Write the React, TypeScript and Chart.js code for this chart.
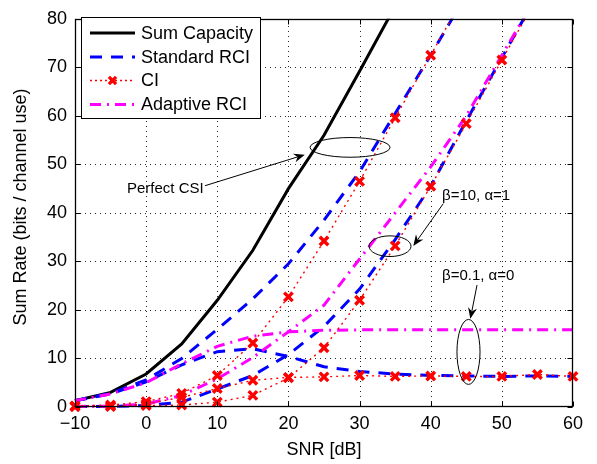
import React, { useEffect, useRef } from 'react';
import { Chart, registerables } from 'chart.js';

Chart.register(...registerables);

// ---------- data ----------
const snr = [-10, -5, 0, 5, 10, 15, 20, 25, 30, 35, 40, 45, 50, 55, 60];

const sumCapacity = [1.3, 3.0, 6.8, 13.0, 22.0, 32.3, 45.0, 56.0, 69.2, 82.6, null, null, null, null, null];

const rciHigh = [1.3, 2.8, 5.6, 10.0, 16.0, 22.3, 29.5, 38.5, 48.5, 60.5, 72.5, 85.0, null, null, null];
const rciHump = [1.3, 2.7, 5.2, 8.7, 11.4, 12.0, 10.4, 8.3, 7.3, 6.8, 6.5, 6.4, 6.3, 6.4, 6.3];
const rciLow = [0.1, 0.1, 0.3, 1.0, 3.7, 6.5, 10.8, 16.6, 24.3, 34.5, 45.5, 59.0, 72.0, 85.0, null];

const ciHigh = [0.2, 0.4, 1.1, 2.8, 6.5, 13.2, 22.7, 34.2, 46.5, 59.6, 72.5, 85.5, null, null, null];
const ciFlat = [0.1, 0.2, 0.6, 2.0, 3.8, 5.5, 6.1, 6.2, 6.5, 6.3, 6.4, 6.3, 6.3, 6.7, 6.3];
const ciLow = [0.1, 0.1, 0.3, 0.4, 1.0, 2.4, 6.0, 12.2, 22.0, 33.2, 45.5, 58.4, 71.5, 84.5, null];

const arcFlat = [1.3, 2.7, 5.0, 8.9, 12.5, 14.6, 15.5, 15.8, 15.9, 15.9, 15.9, 15.9, 15.9, 15.9, 15.9];
const arcLow = [0.1, 0.2, 0.6, 2.4, 5.8, 10.2, 15.5, 21.0, 30.5, 40.0, 49.5, 60.0, 72.5, 85.0, null];

const xTicks = [-10, 0, 10, 20, 30, 40, 50, 60];
const yTicks = [0, 10, 20, 30, 40, 50, 60, 70, 80];

const legendLabels = ['Sum Capacity', 'Standard RCI', 'CI', 'Adaptive RCI'];
const xTitle = 'SNR [dB]';
const yTitle = 'Sum Rate (bits / channel use)';

// annotations (data units)
const noteTexts = [
  { text: 'Perfect CSI', x: -2.69, y: 45.0 },
  { text: 'β=10, α=1', x: 41.59, y: 43.5 },
  { text: 'β=0.1, α=0', x: 41.59, y: 26.96 },
];
const noteArrows = [
  { x1: 8.27, y1: 45.6, x2: 22.3, y2: 52.0 },
  { x1: 41.76, y1: 41.9, x2: 37.55, y2: 33.2 },
  { x1: 46.51, y1: 25.13, x2: 45.57, y2: 18.18 },
];
const noteEllipses = [
  { cx: 28.66, cy: 53.5, rx: 5.62, ry: 2.03 },
  { cx: 34.28, cy: 33.14, rx: 2.95, ry: 2.13 },
  { cx: 45.31, cy: 11.35, rx: 1.62, ry: 6.69 },
];

// ---------- styles ----------
const FONT = '"Liberation Sans", Arial, Helvetica, sans-serif';
const BLACK = '#000000';
const BLUE = '#0000ff';
const RED = '#ff0000';
const MAGENTA = '#ff00ff';
const BLUE_DASH = [12, 9];
const MAG_DASH = [11, 6, 2, 6];
const RED_DASH = [2, 4];

const pts = (arr: (number | null)[]) => snr.map((x, i) => ({ x, y: arr[i] }));

function arrow(ctx: CanvasRenderingContext2D, x1: number, y1: number, x2: number, y2: number) {
  const ang = Math.atan2(y2 - y1, x2 - x1);
  const c = Math.cos(ang), s = Math.sin(ang);
  const len = 11, half = 4.5, notch = 7.5;
  ctx.beginPath();
  ctx.moveTo(x1, y1);
  ctx.lineTo(x2 - c * notch, y2 - s * notch);
  ctx.stroke();
  ctx.beginPath();
  ctx.moveTo(x2, y2);
  ctx.lineTo(x2 - c * len - s * half, y2 - s * len + c * half);
  ctx.lineTo(x2 - c * notch, y2 - s * notch);
  ctx.lineTo(x2 - c * len + s * half, y2 - s * len - c * half);
  ctx.closePath();
  ctx.fill();
}

const decor = {
  id: 'decor',
  beforeDatasetsDraw(chart: any) {
    const { ctx, chartArea: a, scales } = chart;
    const xs = scales.x, ys = scales.y;
    ctx.save();
    ctx.strokeStyle = 'rgba(0,0,0,0.85)';
    ctx.lineWidth = 1;
    ctx.setLineDash([1, 4]);
    xTicks.slice(1, -1).forEach((v) => {
      const p = Math.round(xs.getPixelForValue(v)) + 0.5;
      ctx.beginPath();
      ctx.moveTo(p, a.bottom);
      ctx.lineTo(p, a.top);
      ctx.stroke();
    });
    yTicks.slice(1, -1).forEach((v) => {
      const p = Math.round(ys.getPixelForValue(v)) + 0.5;
      ctx.beginPath();
      ctx.moveTo(a.left, p);
      ctx.lineTo(a.right, p);
      ctx.stroke();
    });
    ctx.restore();
  },
  afterDatasetsDraw(chart: any) {
    const { ctx, chartArea: a, scales } = chart;
    const xs = scales.x, ys = scales.y;
    ctx.save();
    // box
    ctx.setLineDash([]);
    ctx.strokeStyle = BLACK;
    ctx.lineWidth = 1.3;
    const L = Math.round(a.left) + 0.5, R = Math.round(a.right) - 0.5;
    const T = Math.round(a.top) + 0.5, B = Math.round(a.bottom) - 0.5;
    ctx.strokeRect(L, T, R - L, B - T);
    // tick marks inside
    const tl = 5;
    ctx.lineWidth = 1;
    ctx.beginPath();
    xTicks.forEach((v) => {
      const p = Math.round(xs.getPixelForValue(v)) + 0.5;
      ctx.moveTo(p, B); ctx.lineTo(p, B - tl);
      ctx.moveTo(p, T); ctx.lineTo(p, T + tl);
    });
    yTicks.forEach((v) => {
      const p = Math.round(ys.getPixelForValue(v)) + 0.5;
      ctx.moveTo(L, p); ctx.lineTo(L + tl, p);
      ctx.moveTo(R, p); ctx.lineTo(R - tl, p);
    });
    ctx.stroke();

    // annotations
    ctx.fillStyle = BLACK;
    ctx.strokeStyle = BLACK;
    ctx.lineWidth = 1;
    noteEllipses.forEach((e) => {
      const cx = xs.getPixelForValue(e.cx), cy = ys.getPixelForValue(e.cy);
      const rx = Math.abs(xs.getPixelForValue(e.cx + e.rx) - cx);
      const ry = Math.abs(ys.getPixelForValue(e.cy + e.ry) - cy);
      ctx.beginPath();
      ctx.ellipse(cx, cy, rx, ry, 0, 0, Math.PI * 2);
      ctx.stroke();
    });
    noteArrows.forEach((n) => {
      arrow(ctx, xs.getPixelForValue(n.x1), ys.getPixelForValue(n.y1), xs.getPixelForValue(n.x2), ys.getPixelForValue(n.y2));
    });
    ctx.font = `15px ${FONT}`;
    ctx.textAlign = 'left';
    ctx.textBaseline = 'middle';
    noteTexts.forEach((n) => {
      ctx.fillText(n.text, xs.getPixelForValue(n.x), ys.getPixelForValue(n.y));
    });

    // legend
    const bx = 81.5, by = 17.5, bw = 179, bh = 101;
    ctx.fillStyle = '#ffffff';
    ctx.fillRect(bx, by, bw, bh);
    ctx.strokeStyle = BLACK;
    ctx.lineWidth = 1;
    ctx.strokeRect(bx, by, bw, bh);
    const rows = [33, 57, 80.5, 104.5];
    const sx1 = 90, sx2 = 135;
    const styles = [
      { c: BLACK, w: 3, d: [] as number[] },
      { c: BLUE, w: 3, d: BLUE_DASH },
      { c: RED, w: 1.5, d: [2, 3] },
      { c: MAGENTA, w: 3, d: MAG_DASH },
    ];
    rows.forEach((yy, i) => {
      const st = styles[i];
      ctx.strokeStyle = st.c;
      ctx.lineWidth = st.w;
      ctx.setLineDash(st.d);
      ctx.beginPath();
      ctx.moveTo(sx1, yy);
      ctx.lineTo(sx2, yy);
      ctx.stroke();
      ctx.setLineDash([]);
      if (i === 2) {
        const mx = (sx1 + sx2) / 2, r = 3.6;
        ctx.lineWidth = 3.2;
        ctx.beginPath();
        ctx.moveTo(mx - r, yy - r); ctx.lineTo(mx + r, yy + r);
        ctx.moveTo(mx + r, yy - r); ctx.lineTo(mx - r, yy + r);
        ctx.stroke();
      }
      ctx.fillStyle = BLACK;
      ctx.font = `18px ${FONT}`;
      ctx.textAlign = 'left';
      ctx.textBaseline = 'middle';
      ctx.fillText(legendLabels[i], 141, yy + 1);
    });

    // axis titles
    ctx.fillStyle = BLACK;
    ctx.font = `18px ${FONT}`;
    ctx.textAlign = 'center';
    ctx.textBaseline = 'middle';
    ctx.fillText(xTitle, (a.left + a.right) / 2, 450);
    ctx.save();
    ctx.translate(21, 207);
    ctx.rotate(-Math.PI / 2);
    ctx.fillText(yTitle, 0, 0);
    ctx.restore();

    ctx.restore();
  },
};

export default function App() {
  const ref = useRef<HTMLCanvasElement | null>(null);
  useEffect(() => {
    if (!ref.current) return;
    const clip = { left: 12, top: 0, right: 12, bottom: 12 };
    const blue = (d: (number | null)[]) => ({
      data: pts(d), borderColor: BLUE, borderWidth: 3, borderDash: BLUE_DASH,
      pointRadius: 0, order: 3, clip,
    });
    const mag = (d: (number | null)[]) => ({
      data: pts(d), borderColor: MAGENTA, borderWidth: 3, borderDash: MAG_DASH,
      pointRadius: 0, order: 2, clip,
    });
    const red = (d: (number | null)[]) => ({
      data: pts(d), borderColor: RED, borderWidth: 1.4, borderDash: RED_DASH,
      pointStyle: 'crossRot', pointRadius: 6, pointBorderWidth: 3.4,
      pointBorderColor: RED, pointBackgroundColor: RED, order: 1, clip,
    });
    const chart = new Chart(ref.current, {
      type: 'line',
      data: {
        datasets: [
          { data: pts(sumCapacity), borderColor: BLACK, borderWidth: 3, pointRadius: 0, order: 4, clip } as any,
          blue(rciHigh), blue(rciHump), blue(rciLow),
          red(ciHigh), red(ciFlat), red(ciLow),
          mag(arcFlat), mag(arcLow),
        ],
      },
      options: {
        responsive: false,
        animation: false,
        events: [],
        devicePixelRatio: 1,
        layout: { padding: { left: 0, top: 13, right: 24, bottom: 0 } },
        plugins: { legend: { display: false }, tooltip: { enabled: false } },
        scales: {
          x: {
            type: 'linear', min: -10, max: 60,
            grid: { display: false, drawTicks: false },
            border: { display: false },
            afterFit: (s: any) => { s.height = 57; },
            afterBuildTicks: (s: any) => { s.ticks = xTicks.map((v) => ({ value: v })); },
            ticks: {
              autoSkip: false, maxRotation: 0, padding: 6, color: BLACK,
              font: { family: FONT, size: 18 },
              callback: (v: any) => (Number(v) < 0 ? '\u2212' + Math.abs(Number(v)) : String(v)),
            },
          },
          y: {
            type: 'linear', min: 0, max: 80,
            grid: { display: false, drawTicks: false },
            border: { display: false },
            afterFit: (s: any) => { s.width = 75; },
            afterBuildTicks: (s: any) => { s.ticks = yTicks.map((v) => ({ value: v })); },
            ticks: {
              autoSkip: false, padding: 8, color: BLACK,
              font: { family: FONT, size: 18 },
            },
          },
        },
      } as any,
      plugins: [decor],
    });
    return () => chart.destroy();
  }, []);
  return (
    <div style={{ position: 'absolute', left: 0, top: 0, width: 597, height: 464, background: '#fff' }}>
      <canvas ref={ref} width={597} height={464} style={{ display: 'block' }} />
    </div>
  );
}
